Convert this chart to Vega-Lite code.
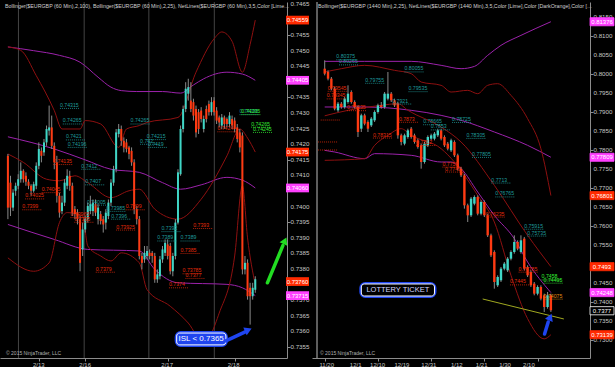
{
"$schema":"https://vega.github.io/schema/vega-lite/v6.json",
"background":"#000000",
"padding":0,
"spacing":0,
"config":{"view":{"stroke":null},"font":"Liberation Sans","axis":{"domainColor":"#8c8c8c","tickColor":"#8c8c8c","grid":false,"tickSize":3,"labels":false}},
"datasets":{
"L":[{"i":0,"o":0.74163,"h":0.74169,"l":0.7396,"c":0.73997},{"i":1,"o":0.74077,"h":0.74099,"l":0.7397,"c":0.73997},{"i":2,"o":0.73997,"h":0.74056,"l":0.73986,"c":0.74045},{"i":3,"o":0.74051,"h":0.74077,"l":0.74035,"c":0.74067},{"i":4,"o":0.74067,"h":0.74104,"l":0.74056,"c":0.74088},{"i":5,"o":0.74088,"h":0.74142,"l":0.74077,"c":0.74115},{"i":6,"o":0.74115,"h":0.7412,"l":0.74077,"c":0.74088},{"i":7,"o":0.74099,"h":0.7411,"l":0.74067,"c":0.7408},{"i":8,"o":0.7408,"h":0.74088,"l":0.74056,"c":0.74067},{"i":9,"o":0.74067,"h":0.74072,"l":0.74035,"c":0.74051},{"i":10,"o":0.74051,"h":0.7408,"l":0.74045,"c":0.74072},{"i":11,"o":0.74067,"h":0.74142,"l":0.74056,"c":0.74131},{"i":12,"o":0.74131,"h":0.74206,"l":0.7412,"c":0.74185},{"i":13,"o":0.74179,"h":0.7419,"l":0.74142,"c":0.74163},{"i":14,"o":0.74174,"h":0.74217,"l":0.74163,"c":0.74206},{"i":15,"o":0.74206,"h":0.7426,"l":0.74195,"c":0.74249},{"i":16,"o":0.74244,"h":0.74324,"l":0.74228,"c":0.74254},{"i":17,"o":0.74254,"h":0.74292,"l":0.74185,"c":0.74195},{"i":18,"o":0.74195,"h":0.74206,"l":0.7412,"c":0.74142},{"i":19,"o":0.74142,"h":0.74163,"l":0.74013,"c":0.74035},{"i":20,"o":0.74035,"h":0.74045,"l":0.73965,"c":0.73981},{"i":21,"o":0.73986,"h":0.74035,"l":0.73976,"c":0.74013},{"i":22,"o":0.74013,"h":0.74088,"l":0.74002,"c":0.74077},{"i":23,"o":0.74067,"h":0.7412,"l":0.74056,"c":0.74099},{"i":24,"o":0.74099,"h":0.74115,"l":0.74051,"c":0.74067},{"i":25,"o":0.74067,"h":0.74077,"l":0.7397,"c":0.73981},{"i":26,"o":0.73992,"h":0.74002,"l":0.7396,"c":0.73976},{"i":27,"o":0.73981,"h":0.73992,"l":0.73943,"c":0.7396},{"i":28,"o":0.7396,"h":0.7397,"l":0.73793,"c":0.7382},{"i":29,"o":0.73863,"h":0.73949,"l":0.73842,"c":0.73927},{"i":30,"o":0.73927,"h":0.7397,"l":0.73917,"c":0.7396},{"i":31,"o":0.7396,"h":0.74013,"l":0.73949,"c":0.74002},{"i":32,"o":0.73986,"h":0.74035,"l":0.73976,"c":0.74008},{"i":33,"o":0.73986,"h":0.74023,"l":0.7397,"c":0.74013},{"i":34,"o":0.74008,"h":0.74023,"l":0.7397,"c":0.73981},{"i":35,"o":0.7396,"h":0.74008,"l":0.73943,"c":0.73997},{"i":36,"o":0.73976,"h":0.73986,"l":0.73943,"c":0.73954},{"i":37,"o":0.7396,"h":0.7397,"l":0.73917,"c":0.73943},{"i":38,"o":0.73949,"h":0.73992,"l":0.73927,"c":0.73981},{"i":39,"o":0.7397,"h":0.74023,"l":0.7396,"c":0.74013},{"i":40,"o":0.74013,"h":0.74088,"l":0.74002,"c":0.74077},{"i":41,"o":0.74077,"h":0.74131,"l":0.74067,"c":0.7412},{"i":42,"o":0.7412,"h":0.74249,"l":0.7411,"c":0.74238},{"i":43,"o":0.74233,"h":0.74265,"l":0.74222,"c":0.74249},{"i":44,"o":0.74249,"h":0.7426,"l":0.74195,"c":0.74211},{"i":45,"o":0.74211,"h":0.74222,"l":0.74174,"c":0.7419},{"i":46,"o":0.74206,"h":0.74217,"l":0.74174,"c":0.74185},{"i":47,"o":0.7419,"h":0.74195,"l":0.74152,"c":0.74169},{"i":48,"o":0.74179,"h":0.7419,"l":0.74131,"c":0.74142},{"i":49,"o":0.74142,"h":0.74152,"l":0.73976,"c":0.73992},{"i":50,"o":0.73992,"h":0.74002,"l":0.73943,"c":0.7396},{"i":51,"o":0.7396,"h":0.7397,"l":0.73831,"c":0.73842},{"i":52,"o":0.73842,"h":0.73852,"l":0.73799,"c":0.7382},{"i":53,"o":0.73831,"h":0.73874,"l":0.7382,"c":0.73852},{"i":54,"o":0.73842,"h":0.73874,"l":0.73831,"c":0.73858},{"i":55,"o":0.73852,"h":0.73863,"l":0.73831,"c":0.73842},{"i":56,"o":0.73852,"h":0.73858,"l":0.7382,"c":0.73842},{"i":57,"o":0.73842,"h":0.73852,"l":0.73756,"c":0.73767},{"i":58,"o":0.73767,"h":0.73799,"l":0.73756,"c":0.73783},{"i":59,"o":0.73777,"h":0.73842,"l":0.73767,"c":0.73831},{"i":60,"o":0.73831,"h":0.73874,"l":0.7382,"c":0.73863},{"i":61,"o":0.73852,"h":0.73895,"l":0.73842,"c":0.73884},{"i":62,"o":0.73879,"h":0.73895,"l":0.73831,"c":0.73842},{"i":63,"o":0.73874,"h":0.73884,"l":0.73783,"c":0.73793},{"i":64,"o":0.73793,"h":0.73852,"l":0.73777,"c":0.73842},{"i":65,"o":0.73842,"h":0.7396,"l":0.73831,"c":0.73949},{"i":66,"o":0.73949,"h":0.7412,"l":0.73943,"c":0.7411},{"i":67,"o":0.74104,"h":0.7426,"l":0.74099,"c":0.74249},{"i":68,"o":0.74249,"h":0.74324,"l":0.74238,"c":0.74313},{"i":69,"o":0.74313,"h":0.74399,"l":0.74303,"c":0.74378},{"i":70,"o":0.74362,"h":0.7441,"l":0.7434,"c":0.74383},{"i":71,"o":0.7434,"h":0.74399,"l":0.74303,"c":0.74313},{"i":72,"o":0.74335,"h":0.74346,"l":0.74276,"c":0.74292},{"i":73,"o":0.74313,"h":0.74324,"l":0.74222,"c":0.74238},{"i":74,"o":0.74303,"h":0.74313,"l":0.74233,"c":0.74249},{"i":75,"o":0.74308,"h":0.74319,"l":0.7427,"c":0.74281},{"i":76,"o":0.74249,"h":0.74292,"l":0.74238,"c":0.74281},{"i":77,"o":0.74313,"h":0.74324,"l":0.7427,"c":0.74281},{"i":78,"o":0.74329,"h":0.7434,"l":0.74292,"c":0.74303},{"i":79,"o":0.74303,"h":0.74351,"l":0.74292,"c":0.74335},{"i":80,"o":0.7434,"h":0.74351,"l":0.74292,"c":0.74303},{"i":81,"o":0.74308,"h":0.74319,"l":0.74265,"c":0.74276},{"i":82,"o":0.74286,"h":0.74292,"l":0.74254,"c":0.7427},{"i":83,"o":0.7426,"h":0.74297,"l":0.74249,"c":0.74286},{"i":84,"o":0.74286,"h":0.74292,"l":0.74249,"c":0.74265},{"i":85,"o":0.74281,"h":0.74286,"l":0.74254,"c":0.74265},{"i":86,"o":0.74265,"h":0.74303,"l":0.74254,"c":0.74292},{"i":87,"o":0.74281,"h":0.74292,"l":0.74249,"c":0.7426},{"i":88,"o":0.74276,"h":0.74286,"l":0.74238,"c":0.74249},{"i":89,"o":0.74254,"h":0.74265,"l":0.74206,"c":0.74217},{"i":90,"o":0.74238,"h":0.74249,"l":0.74174,"c":0.7419},{"i":91,"o":0.74228,"h":0.74238,"l":0.73783,"c":0.73799},{"i":92,"o":0.73799,"h":0.73842,"l":0.73783,"c":0.7382},{"i":93,"o":0.7382,"h":0.73831,"l":0.73702,"c":0.73713},{"i":94,"o":0.7374,"h":0.73756,"l":0.73622,"c":0.73713},{"i":95,"o":0.73713,"h":0.73756,"l":0.73702,"c":0.7374},{"i":96,"o":0.73734,"h":0.73777,"l":0.73724,"c":0.73767}],
"LB":[{"s":"pu","x":0,"v":0.74512},{"s":"pu","x":10,"v":0.745},{"s":"pu","x":20,"v":0.74485},{"s":"pu","x":28,"v":0.74463},{"s":"pu","x":35,"v":0.74415},{"s":"pu","x":40,"v":0.74383},{"s":"pu","x":44,"v":0.74372},{"s":"pu","x":50,"v":0.74369},{"s":"pu","x":60,"v":0.74369},{"s":"pu","x":67,"v":0.74364},{"s":"pu","x":72,"v":0.7439},{"s":"pu","x":76,"v":0.7441},{"s":"pu","x":85,"v":0.74431},{"s":"pu","x":91,"v":0.74425},{"s":"pu","x":96,"v":0.74405},
{"s":"pm","x":0,"v":0.74224},{"s":"pm","x":18,"v":0.74185},{"s":"pm","x":30,"v":0.7415},{"s":"pm","x":40,"v":0.7412},{"s":"pm","x":51,"v":0.7411},{"s":"pm","x":60,"v":0.74077},{"s":"pm","x":67,"v":0.74056},{"s":"pm","x":75,"v":0.7407},{"s":"pm","x":85,"v":0.74094},{"s":"pm","x":91,"v":0.74085},{"s":"pm","x":96,"v":0.7406},
{"s":"pl","x":0,"v":0.73943},{"s":"pl","x":18,"v":0.73895},{"s":"pl","x":31,"v":0.73863},{"s":"pl","x":51,"v":0.73858},{"s":"pl","x":57,"v":0.73799},{"s":"pl","x":66,"v":0.73756},{"s":"pl","x":85,"v":0.73751},{"s":"pl","x":91,"v":0.7374},{"s":"pl","x":96,"v":0.73715},
{"s":"ru","x":0,"v":0.74512},{"s":"ru","x":5,"v":0.74501},{"s":"ru","x":11,"v":0.7442},{"s":"ru","x":18,"v":0.74308},{"s":"ru","x":21,"v":0.74249},{"s":"ru","x":28,"v":0.74249},{"s":"ru","x":30,"v":0.74276},{"s":"ru","x":36,"v":0.74265},{"s":"ru","x":43,"v":0.7419},{"s":"ru","x":46,"v":0.74249},{"s":"ru","x":51,"v":0.7426},{"s":"ru","x":54,"v":0.7427},{"s":"ru","x":66,"v":0.74286},{"s":"ru","x":73,"v":0.74431},{"s":"ru","x":80,"v":0.74538},{"s":"ru","x":83,"v":0.7456},{"s":"ru","x":87,"v":0.7453},{"s":"ru","x":91,"v":0.74431},{"s":"ru","x":94,"v":0.7452},{"s":"ru","x":96,"v":0.74598},
{"s":"rm","x":0,"v":0.74169},{"s":"rm","x":6,"v":0.74142},{"s":"rm","x":15,"v":0.74088},{"s":"rm","x":20,"v":0.74083},{"s":"rm","x":26,"v":0.74099},{"s":"rm","x":31,"v":0.74077},{"s":"rm","x":40,"v":0.74029},{"s":"rm","x":47,"v":0.74051},{"s":"rm","x":51,"v":0.74056},{"s":"rm","x":57,"v":0.73992},{"s":"rm","x":66,"v":0.7396},{"s":"rm","x":75,"v":0.74024},{"s":"rm","x":85,"v":0.74163},{"s":"rm","x":90,"v":0.74249},{"s":"rm","x":93,"v":0.7422},{"s":"rm","x":96,"v":0.74175},
{"s":"rl","x":0,"v":0.73836},{"s":"rl","x":10,"v":0.73793},{"s":"rl","x":16,"v":0.7382},{"s":"rl","x":20,"v":0.73949},{"s":"rl","x":23,"v":0.73981},{"s":"rl","x":29,"v":0.7397},{"s":"rl","x":31,"v":0.73874},{"s":"rl","x":36,"v":0.73842},{"s":"rl","x":40,"v":0.73826},{"s":"rl","x":44,"v":0.73852},{"s":"rl","x":51,"v":0.7382},{"s":"rl","x":54,"v":0.73734},{"s":"rl","x":63,"v":0.73681},{"s":"rl","x":70,"v":0.73627},{"s":"rl","x":76,"v":0.73563},{"s":"rl","x":82,"v":0.73659},{"s":"rl","x":88,"v":0.73842},{"s":"rl","x":91,"v":0.74067},{"s":"rl","x":93,"v":0.739},{"s":"rl","x":96,"v":0.7375}],
"LN":[{"x":20.2,"p":0.74315,"t":"0.74315","k":"T"},{"x":21.3,"p":0.74265,"t":"0.74265","k":"T"},{"x":22.5,"p":0.74214,"t":"0.7421","k":"T"},{"x":23.2,"p":0.7419,"t":"0.74196","k":"T"},{"x":28.5,"p":0.7412,"t":"0.7412","k":"T"},{"x":30,"p":0.7407,"t":"0.7407","k":"T"},{"x":30.7,"p":0.74005,"t":"0.74005","k":"T"},{"x":38.2,"p":0.73985,"t":"0.73985","k":"T"},{"x":40.1,"p":0.7396,"t":"0.7396","k":"T"},{"x":47.6,"p":0.74265,"t":"0.74265","k":"T"},{"x":53.9,"p":0.74215,"t":"0.74215","k":"T"},{"x":51.3,"p":0.742,"t":"0.742","k":"T"},{"x":54.3,"p":0.7419,"t":"0.7419","k":"T"},{"x":59.6,"p":0.7392,"t":"0.7392","k":"T"},{"x":58,"p":0.7389,"t":"0.7389","k":"T"},{"x":67,"p":0.7389,"t":"0.7389","k":"T"},{"x":89.9,"p":0.74295,"t":"0.74295","k":"T"},
{"x":90.6,"p":0.74295,"t":"0.74295","k":"G"},{"x":94.4,"p":0.74255,"t":"0.74265","k":"G"},{"x":95.1,"p":0.74238,"t":"0.74245","k":"G"},
{"x":17.6,"p":0.74135,"t":"0.74135","k":"R"},{"x":13.1,"p":0.74045,"t":"0.74045","k":"R"},{"x":6.7,"p":0.74025,"t":"0.74025","k":"R"},{"x":5.6,"p":0.7399,"t":"0.7399","k":"R"},{"x":24.3,"p":0.73965,"t":"0.73965","k":"R"},{"x":25.8,"p":0.7395,"t":"0.7395","k":"R"},{"x":45.7,"p":0.7399,"t":"0.7399","k":"R"},{"x":42,"p":0.73925,"t":"0.73925","k":"R"},{"x":34.1,"p":0.7379,"t":"0.7379","k":"R"},{"x":71.9,"p":0.7393,"t":"0.7393","k":"R"},{"x":67,"p":0.7385,"t":"0.7385","k":"R"},{"x":67.8,"p":0.73785,"t":"0.73785","k":"R"},{"x":68.9,"p":0.7377,"t":"0.7377","k":"R"},{"x":62.5,"p":0.7374,"t":"0.7374","k":"R"},{"x":81.3,"p":0.7424,"t":"0.7424","k":"R"}],
"LX":[{"p":0.74598,"t":"0.74559","k":"R"},{"p":0.74405,"t":"0.74405","k":"M"},{"p":0.74175,"t":"0.74175","k":"R"},{"p":0.7406,"t":"0.74060","k":"M"},{"p":0.7376,"t":"0.73760","k":"R"},{"p":0.73715,"t":"0.73715","k":"M"}],
"LY":[{"p":0.7355,"t":"0.7355"},{"p":0.736,"t":"0.7360"},{"p":0.7365,"t":"0.7365"},{"p":0.737,"t":"0.7370"},{"p":0.738,"t":"0.7380"},{"p":0.7385,"t":"0.7385"},{"p":0.739,"t":"0.7390"},{"p":0.7395,"t":"0.7395"},{"p":0.74,"t":"0.7400"},{"p":0.741,"t":"0.7410"},{"p":0.7415,"t":"0.7415"},{"p":0.742,"t":"0.7420"},{"p":0.7425,"t":"0.7425"},{"p":0.743,"t":"0.7430"},{"p":0.7435,"t":"0.7435"},{"p":0.7445,"t":"0.7445"},{"p":0.745,"t":"0.7450"},{"p":0.7455,"t":"0.7455"},{"p":0.7465,"t":"0.7465"}],
"LD":[{"x":12,"t":"2/13"},{"x":30,"t":"2/16"},{"x":61.8,"t":"2/17"},{"x":87.6,"t":"2/18"}],
"R":[{"k":0,"o":0.8014,"h":0.8036,"l":0.79965,"c":0.80009},{"k":1,"o":0.80053,"h":0.80097,"l":0.79833,"c":0.79877},{"k":2,"o":0.79877,"h":0.79921,"l":0.7957,"c":0.79614},{"k":3,"o":0.79614,"h":0.79658,"l":0.79044,"c":0.79088},{"k":4,"o":0.79044,"h":0.79263,"l":0.79,"c":0.79219},{"k":5,"o":0.79219,"h":0.79263,"l":0.79088,"c":0.79132},{"k":6,"o":0.79132,"h":0.79395,"l":0.79088,"c":0.79351},{"k":7,"o":0.79263,"h":0.79702,"l":0.79219,"c":0.79482},{"k":8,"o":0.79526,"h":0.7957,"l":0.79219,"c":0.79263},{"k":9,"o":0.79263,"h":0.79307,"l":0.79088,"c":0.79132},{"k":10,"o":0.79132,"h":0.79175,"l":0.78342,"c":0.78474},{"k":11,"o":0.78561,"h":0.78956,"l":0.78474,"c":0.78912},{"k":12,"o":0.78912,"h":0.78956,"l":0.78649,"c":0.78693},{"k":13,"o":0.78737,"h":0.78781,"l":0.78474,"c":0.78561},{"k":14,"o":0.78649,"h":0.78868,"l":0.78605,"c":0.78825},{"k":15,"o":0.78781,"h":0.79044,"l":0.78737,"c":0.79},{"k":16,"o":0.79,"h":0.79219,"l":0.78956,"c":0.79175},{"k":17,"o":0.79175,"h":0.79263,"l":0.79088,"c":0.79132},{"k":18,"o":0.79132,"h":0.79526,"l":0.79088,"c":0.79482},{"k":19,"o":0.79351,"h":0.80053,"l":0.79307,"c":0.79482},{"k":20,"o":0.79482,"h":0.79526,"l":0.79263,"c":0.79307},{"k":21,"o":0.79307,"h":0.79351,"l":0.79132,"c":0.79175},{"k":22,"o":0.79219,"h":0.79263,"l":0.78298,"c":0.78386},{"k":23,"o":0.78386,"h":0.7843,"l":0.78123,"c":0.78211},{"k":24,"o":0.78167,"h":0.7843,"l":0.78123,"c":0.78386},{"k":25,"o":0.78342,"h":0.78561,"l":0.78298,"c":0.78517},{"k":26,"o":0.78561,"h":0.78605,"l":0.78298,"c":0.78342},{"k":27,"o":0.78386,"h":0.7843,"l":0.78167,"c":0.78211},{"k":28,"o":0.78254,"h":0.78298,"l":0.78035,"c":0.78079},{"k":29,"o":0.78123,"h":0.78167,"l":0.77509,"c":0.77684},{"k":30,"o":0.77684,"h":0.78211,"l":0.7764,"c":0.78167},{"k":31,"o":0.78123,"h":0.78386,"l":0.78079,"c":0.78342},{"k":32,"o":0.78298,"h":0.7843,"l":0.78254,"c":0.78386},{"k":33,"o":0.78298,"h":0.78474,"l":0.78254,"c":0.7843},{"k":34,"o":0.78386,"h":0.78561,"l":0.78342,"c":0.78517},{"k":35,"o":0.78517,"h":0.78561,"l":0.78254,"c":0.78298},{"k":36,"o":0.78342,"h":0.78386,"l":0.78079,"c":0.78123},{"k":37,"o":0.78167,"h":0.78211,"l":0.77991,"c":0.78035},{"k":38,"o":0.77991,"h":0.78298,"l":0.77947,"c":0.78254},{"k":39,"o":0.78211,"h":0.78254,"l":0.77816,"c":0.7786},{"k":40,"o":0.7786,"h":0.77904,"l":0.77465,"c":0.77509},{"k":41,"o":0.77509,"h":0.77553,"l":0.77289,"c":0.77333},{"k":42,"o":0.77333,"h":0.77377,"l":0.76456,"c":0.76544},{"k":43,"o":0.76544,"h":0.76588,"l":0.76105,"c":0.76281},{"k":44,"o":0.76281,"h":0.76763,"l":0.76237,"c":0.76719},{"k":45,"o":0.76588,"h":0.76807,"l":0.76544,"c":0.76763},{"k":46,"o":0.76763,"h":0.76807,"l":0.76281,"c":0.76324},{"k":47,"o":0.76324,"h":0.76675,"l":0.76281,"c":0.76632},{"k":48,"o":0.76632,"h":0.76675,"l":0.76237,"c":0.76281},{"k":49,"o":0.76281,"h":0.76324,"l":0.7571,"c":0.75754},{"k":50,"o":0.75754,"h":0.75798,"l":0.75184,"c":0.75228},{"k":51,"o":0.75316,"h":0.7536,"l":0.74351,"c":0.74526},{"k":52,"o":0.74439,"h":0.74702,"l":0.74395,"c":0.74658},{"k":53,"o":0.7457,"h":0.74921,"l":0.74526,"c":0.74877},{"k":54,"o":0.74877,"h":0.75053,"l":0.74833,"c":0.75009},{"k":55,"o":0.74833,"h":0.75184,"l":0.74789,"c":0.7514},{"k":56,"o":0.7514,"h":0.7536,"l":0.75096,"c":0.75316},{"k":57,"o":0.75316,"h":0.75754,"l":0.75272,"c":0.75579},{"k":58,"o":0.75579,"h":0.75623,"l":0.7536,"c":0.75404},{"k":59,"o":0.75316,"h":0.75754,"l":0.75272,"c":0.75623},{"k":60,"o":0.75667,"h":0.75711,"l":0.74833,"c":0.74877},{"k":61,"o":0.74921,"h":0.74965,"l":0.74658,"c":0.74702},{"k":62,"o":0.74789,"h":0.74833,"l":0.74395,"c":0.74439},{"k":63,"o":0.74482,"h":0.74526,"l":0.74175,"c":0.74219},{"k":64,"o":0.74219,"h":0.74439,"l":0.74175,"c":0.74395},{"k":65,"o":0.74395,"h":0.74439,"l":0.74044,"c":0.74088},{"k":66,"o":0.74175,"h":0.74219,"l":0.73737,"c":0.73868},{"k":67,"o":0.73868,"h":0.74263,"l":0.73824,"c":0.74175},{"k":68,"o":0.74175,"h":0.74219,"l":0.73737,"c":0.73781}],
"RB":[{"s":"pu","x":0,"v":0.80333},{"s":"pu","x":12,"v":0.80333},{"s":"pu","x":26,"v":0.80333},{"s":"pu","x":35,"v":0.80228},{"s":"pu","x":41,"v":0.8014},{"s":"pu","x":45,"v":0.802},{"s":"pu","x":49,"v":0.80491},{"s":"pu","x":53,"v":0.80754},{"s":"pu","x":59,"v":0.81017},{"s":"pu","x":68,"v":0.81376},
{"s":"pm","x":0,"v":0.79132},{"s":"pm","x":12,"v":0.79132},{"s":"pm","x":26,"v":0.79044},{"s":"pm","x":35,"v":0.78912},{"s":"pm","x":41,"v":0.78781},{"s":"pm","x":51,"v":0.78474},{"s":"pm","x":61,"v":0.78123},{"s":"pm","x":68,"v":0.77809},
{"s":"pl","x":0,"v":0.77991},{"s":"pl","x":3,"v":0.77947},{"s":"pl","x":12,"v":0.77772},{"s":"pl","x":15,"v":0.77904},{"s":"pl","x":26,"v":0.7786},{"s":"pl","x":35,"v":0.77684},{"s":"pl","x":38,"v":0.77684},{"s":"pl","x":41,"v":0.77509},{"s":"pl","x":46,"v":0.76895},{"s":"pl","x":51,"v":0.76281},{"s":"pl","x":57,"v":0.75667},{"s":"pl","x":61,"v":0.75053},{"s":"pl","x":68,"v":0.74248},
{"s":"ru","x":0,"v":0.80053},{"s":"ru","x":5,"v":0.8014},{"s":"ru","x":12,"v":0.80228},{"s":"ru","x":21,"v":0.80096},{"s":"ru","x":26,"v":0.80009},{"s":"ru","x":29,"v":0.79789},{"s":"ru","x":35,"v":0.79702},{"s":"ru","x":38,"v":0.79526},{"s":"ru","x":43,"v":0.7957},{"s":"ru","x":46,"v":0.79482},{"s":"ru","x":49,"v":0.79702},{"s":"ru","x":52,"v":0.79745},{"s":"ru","x":56,"v":0.79439},{"s":"ru","x":61,"v":0.78825},{"s":"ru","x":65,"v":0.78035},{"s":"ru","x":68,"v":0.76801},
{"s":"rm","x":0,"v":0.789},{"s":"rm","x":7,"v":0.79044},{"s":"rm","x":17,"v":0.79175},{"s":"rm","x":22,"v":0.79219},{"s":"rm","x":25,"v":0.79044},{"s":"rm","x":35,"v":0.78605},{"s":"rm","x":41,"v":0.78211},{"s":"rm","x":51,"v":0.7707},{"s":"rm","x":61,"v":0.75754},{"s":"rm","x":68,"v":0.7493},
{"s":"rl","x":0,"v":0.77728},{"s":"rl","x":12,"v":0.77772},{"s":"rl","x":15,"v":0.78123},{"s":"rl","x":19,"v":0.78386},{"s":"rl","x":23,"v":0.78561},{"s":"rl","x":26,"v":0.78386},{"s":"rl","x":35,"v":0.78035},{"s":"rl","x":39,"v":0.77684},{"s":"rl","x":46,"v":0.76807},{"s":"rl","x":51,"v":0.76105},{"s":"rl","x":56,"v":0.74702},{"s":"rl","x":61,"v":0.73561},{"s":"rl","x":66,"v":0.7303},{"s":"rl","x":68,"v":0.73139}],
"RN":[{"x":3.5,"p":0.80375,"t":"0.80375","k":"T"},{"x":4.3,"p":0.8024,"t":"0.80265","k":"T"},{"x":12.2,"p":0.79755,"t":"0.79755","k":"T"},{"x":24,"p":0.80055,"t":"0.80055","k":"T"},{"x":25.2,"p":0.79535,"t":"0.79535","k":"T"},{"x":20.3,"p":0.7921,"t":"0.7921","k":"T"},{"x":29.6,"p":0.78665,"t":"0.78665","k":"T"},{"x":31.9,"p":0.7853,"t":"0.7853","k":"T"},{"x":38.3,"p":0.78725,"t":"0.78725","k":"T"},{"x":42.6,"p":0.78305,"t":"0.78305","k":"T"},{"x":44.3,"p":0.77805,"t":"0.77805","k":"T"},{"x":50.1,"p":0.7713,"t":"0.7713","k":"T"},{"x":51.3,"p":0.76765,"t":"0.76765","k":"T"},{"x":60,"p":0.75915,"t":"0.75915","k":"T"},{"x":60.9,"p":0.75735,"t":"0.75735","k":"T"},
{"x":0.9,"p":0.79545,"t":"0.79545","k":"R"},{"x":0.6,"p":0.79345,"t":"0.79345","k":"R"},{"x":6.7,"p":0.79035,"t":"0.79035","k":"R"},{"x":14.5,"p":0.78315,"t":"0.78315","k":"R"},{"x":22.3,"p":0.7873,"t":"0.7873","k":"R"},{"x":27.5,"p":0.7812,"t":"0.7812","k":"R"},{"x":35.4,"p":0.7755,"t":"0.7755","k":"R"},{"x":36.2,"p":0.7742,"t":"0.7742","k":"R"},{"x":48.4,"p":0.76235,"t":"0.76235","k":"R"},{"x":58.3,"p":0.74785,"t":"0.74785","k":"R"},{"x":55.7,"p":0.7445,"t":"0.7445","k":"R"},{"x":-1.2,"p":0.78789,"t":"","k":"R"},{"x":-2,"p":0.78211,"t":"","k":"R"},{"x":-2,"p":0.78,"t":"","k":"R"},
{"x":65.8,"p":0.74075,"t":"0.74075","k":"O"},{"x":65.2,"p":0.7458,"t":"0.7458","k":"G"},{"x":65.8,"p":0.74495,"t":"0.74495","k":"G"}],
"RX":[{"p":0.81376,"t":"0.81376","k":"M"},{"p":0.77809,"t":"0.77809","k":"M"},{"p":0.76801,"t":"0.76801","k":"R"},{"p":0.7493,"t":"0.7493","k":"R"},{"p":0.74248,"t":"0.74248","k":"M"},{"p":0.7377,"t":"0.7377","k":"W"},{"p":0.73139,"t":"0.73139","k":"R"}],
"RY":[{"p":0.73,"t":"0.7300"},{"p":0.735,"t":"0.7350"},{"p":0.74,"t":"0.7400"},{"p":0.745,"t":"0.7450"},{"p":0.755,"t":"0.7550"},{"p":0.76,"t":"0.7600"},{"p":0.765,"t":"0.7650"},{"p":0.77,"t":"0.7700"},{"p":0.775,"t":"0.7750"},{"p":0.78,"t":"0.7800"},{"p":0.785,"t":"0.7850"},{"p":0.79,"t":"0.7900"},{"p":0.795,"t":"0.7950"},{"p":0.8,"t":"0.8000"},{"p":0.805,"t":"0.8050"},{"p":0.81,"t":"0.8100"},{"p":0.815,"t":"0.8150"}],
"RD":[{"x":0.6,"t":"11/20"},{"x":9.3,"t":"12/1"},{"x":15.9,"t":"12/10"},{"x":23.2,"t":"12/19"},{"x":31.3,"t":"12/31"},{"x":39.7,"t":"1/12"},{"x":47.2,"t":"1/21"},{"x":54.2,"t":"1/30"},{"x":61.4,"t":"2/10"}]
},
"hconcat":[
{
"width":287,"height":356,
"resolve":{"scale":{"color":"independent","fill":"independent","stroke":"independent"}},
"layer":[
{"data":{"values":[{"x":4.1},{"x":29.6},{"x":54.7},{"x":80.1}]},"mark":{"type":"rule","color":"#444444","strokeWidth":1},
 "encoding":{"x":{"field":"x","type":"quantitative","title":null,"scale":{"domain":[-1.124,106.37],"nice":false,"zero":false},"axis":{"values":[12,30,62,88],"labels":false,"title":null,"orient":"bottom","minExtent":11,"maxExtent":11}}}},
{"data":{"name":"LB"},"mark":{"type":"line","strokeWidth":1,"interpolate":"monotone","clip":true},
 "encoding":{"x":{"field":"x","type":"quantitative","title":null},"y":{"field":"v","type":"quantitative","title":null,"scale":{"domain":[0.73515,0.74656],"nice":false,"zero":false},"axis":{"orient":"right","values":[0.7355,0.736,0.7365,0.737,0.7375,0.738,0.7385,0.739,0.7395,0.74,0.7405,0.741,0.7415,0.742,0.7425,0.743,0.7435,0.744,0.7445,0.745,0.7455,0.746,0.7465],"labels":false,"title":null,"minExtent":25,"maxExtent":25}},
 "color":{"field":"s","type":"nominal","scale":{"domain":["pu","pm","pl","ru","rm","rl"],"range":["#9c22ab","#9c22ab","#9c22ab","#8e1010","#8e1010","#8e1010"]},"legend":null}}},
{"data":{"name":"L"},"mark":{"type":"rule","color":"#8a8a8a","strokeWidth":1},
 "encoding":{"x":{"field":"i","type":"quantitative","title":null},"y":{"field":"l","type":"quantitative","title":null},"y2":{"field":"h"}}},
{"data":{"name":"L"},"mark":{"type":"bar","size":2},
 "encoding":{"x":{"field":"i","type":"quantitative","title":null},"y":{"field":"o","type":"quantitative","title":null},"y2":{"field":"c"},
 "color":{"condition":{"test":"datum.c >= datum.o","value":"#3fd6c6"},"value":"#ff3a12"}}},
{"data":{"name":"LN"},"mark":{"type":"rule","strokeDash":[1,1],"strokeWidth":0.8,"x2Offset":19},
 "encoding":{"x":{"field":"x","type":"quantitative","title":null},"x2":{"field":"x"},"y":{"field":"p","type":"quantitative","title":null},
 "color":{"field":"k","type":"nominal","scale":{"domain":["T","R","G","O"],"range":["#1f9b9b","#e02a0a","#33ee33","#e08a10"]},"legend":null}}},
{"data":{"name":"LN"},"mark":{"type":"text","align":"left","baseline":"bottom","fontSize":5.2,"dy":-0.5},
 "encoding":{"x":{"field":"x","type":"quantitative","title":null},"y":{"field":"p","type":"quantitative","title":null},"text":{"field":"t"},
 "color":{"field":"k","type":"nominal","scale":{"domain":["T","R","G","O"],"range":["#1f9b9b","#e02a0a","#33ee33","#e08a10"]},"legend":null}}},
{"data":{"values":[{"x":65.5,"x2":84.6,"y":0.73557,"y2":0.73595}]},"mark":{"type":"rect","fill":"#1f45f0","stroke":"#1f45f0","strokeWidth":4,"cornerRadius":4},
 "encoding":{"x":{"field":"x","type":"quantitative","title":null},"x2":{"field":"x2"},"y":{"field":"y","type":"quantitative","title":null},"y2":{"field":"y2"}}},
{"data":{"values":[{"x":65.5,"x2":84.6,"y":0.73557,"y2":0.73595}]},"mark":{"type":"rect","fill":"#1f45f0","stroke":"#ffffff","strokeWidth":1,"cornerRadius":3},
 "encoding":{"x":{"field":"x","type":"quantitative","title":null},"x2":{"field":"x2"},"y":{"field":"y","type":"quantitative","title":null},"y2":{"field":"y2"}}},
{"data":{"values":[{"x":75,"y":0.73576,"t":"ISL < 0.7365"}]},"mark":{"type":"text","color":"#ffffff","fontSize":8,"align":"center","baseline":"middle"},
 "encoding":{"x":{"field":"x","type":"quantitative","title":null},"y":{"field":"y","type":"quantitative","title":null},"text":{"field":"t"}}},
{"data":{"values":[{"x":84.6,"y":0.7357,"x2":92.1,"y2":0.73599}]},"mark":{"type":"rule","color":"#1f45f0","strokeWidth":3.5,"strokeCap":"round"},
 "encoding":{"x":{"field":"x","type":"quantitative","title":null},"x2":{"field":"x2"},"y":{"field":"y","type":"quantitative","title":null},"y2":{"field":"y2"}}},
{"data":{"values":[{"x":93.3,"y":0.73605}]},"mark":{"type":"point","shape":"triangle-up","filled":true,"opacity":1,"color":"#1f45f0","size":70,"angle":66},
 "encoding":{"x":{"field":"x","type":"quantitative","title":null},"y":{"field":"y","type":"quantitative","title":null}}},
{"data":{"values":[{"x":100.7,"y":0.73756,"x2":106.7,"y2":0.73875}]},"mark":{"type":"rule","color":"#22dd22","strokeWidth":3.5,"strokeCap":"round"},
 "encoding":{"x":{"field":"x","type":"quantitative","title":null},"x2":{"field":"x2"},"y":{"field":"y","type":"quantitative","title":null},"y2":{"field":"y2"}}},
{"data":{"values":[{"x":107.5,"y":0.73891}]},"mark":{"type":"point","shape":"triangle-up","filled":true,"opacity":1,"color":"#22dd22","size":70,"angle":25},
 "encoding":{"x":{"field":"x","type":"quantitative","title":null},"y":{"field":"y","type":"quantitative","title":null}}},
{"data":{"name":"LY"},"mark":{"type":"text","color":"#c8c8c8","fontSize":6.2,"align":"left","baseline":"middle","dx":3.5},
 "encoding":{"x":{"value":"width"},"y":{"field":"p","type":"quantitative","title":null},"text":{"field":"t"}}},
{"data":{"name":"LD"},"mark":{"type":"text","color":"#c8c8c8","fontSize":6,"align":"center","baseline":"middle","dy":7},
 "encoding":{"x":{"field":"x","type":"quantitative","title":null},"y":{"value":"height"},"text":{"field":"t"}}},
{"data":{"name":"LX"},"mark":{"type":"point","shape":"M-1,-0.38L1,-0.38L1,0.38L-1,0.38Z","size":530,"filled":true,"opacity":1,"xOffset":10.5},
 "encoding":{"x":{"value":"width"},"y":{"field":"p","type":"quantitative","title":null},
 "fill":{"field":"k","type":"nominal","scale":{"domain":["R","M","W"],"range":["#ff2a00","#ff40ff","#000000"]},"legend":null}}},
{"data":{"name":"LX"},"mark":{"type":"text","color":"#ffffff","fontSize":6,"align":"center","baseline":"middle","dx":10.5},
 "encoding":{"x":{"value":"width"},"y":{"field":"p","type":"quantitative","title":null},"text":{"field":"t"}}},
{"data":{"values":[{"x":-1.124,"y":0.74656,"t":"Bollinger($EURGBP (60 Min),2,100), Bollinger($EURGBP (60 Min),2,25), NetLines($EURGBP (60 Min),3,5,Color [Lime],Color ["}]},"mark":{"type":"text","color":"#d0d0d0","fontSize":5.3,"align":"left","baseline":"top","dy":2,"limit":286,"ellipsis":""},
 "encoding":{"x":{"field":"x","type":"quantitative","title":null},"y":{"field":"y","type":"quantitative","title":null},"text":{"field":"t"}}},
{"data":{"values":[{"x":-1.124,"y":0.73515,"t":"© 2015 NinjaTrader, LLC"}]},"mark":{"type":"text","color":"#b0b0b0","fontSize":5,"align":"left","baseline":"bottom","dy":-2,"dx":1},
 "encoding":{"x":{"field":"x","type":"quantitative","title":null},"y":{"field":"y","type":"quantitative","title":null},"text":{"field":"t"}}}
]},
{
"width":278,"height":356,
"resolve":{"scale":{"color":"independent","fill":"independent","stroke":"independent"}},
"layer":[
{"data":{"values":[{"x":-2.32}]},"mark":{"type":"rule","color":"#bbbbbb","strokeWidth":1},
 "encoding":{"x":{"field":"x","type":"quantitative","title":null,"scale":{"domain":[-2.32,78.26],"nice":false,"zero":false},"axis":{"values":[0,1,2,3,4,5,6,7,8,9,10,11,12,13,14,15,16,17,18,19,20,21,22,23,24,25,26,27,28,29,30,31,32,33,34,35,36,37,38,39,40,41,42,43,44,45,46,47,48,49,50,51,52,53,54,55,56,57,58,59,60,61,62,63,64,65,66,67,68],"labels":false,"title":null,"orient":"bottom","minExtent":11,"maxExtent":11}}}},
{"data":{"name":"RB"},"mark":{"type":"line","strokeWidth":1,"interpolate":"monotone","clip":true},
 "encoding":{"x":{"field":"x","type":"quantitative","title":null},"y":{"field":"v","type":"quantitative","title":null,"scale":{"domain":[0.72526,0.81895],"nice":false,"zero":false},"axis":{"orient":"right","values":[0.73,0.735,0.74,0.745,0.75,0.755,0.76,0.765,0.77,0.775,0.78,0.785,0.79,0.795,0.8,0.805,0.81,0.815],"labels":false,"title":null,"minExtent":25,"maxExtent":25}},
 "color":{"field":"s","type":"nominal","scale":{"domain":["pu","pm","pl","ru","rm","rl"],"range":["#9c22ab","#9c22ab","#9c22ab","#8e1010","#8e1010","#8e1010"]},"legend":null}}},
{"data":{"name":"R"},"mark":{"type":"rule","color":"#8a8a8a","strokeWidth":1},
 "encoding":{"x":{"field":"k","type":"quantitative","title":null},"y":{"field":"l","type":"quantitative","title":null},"y2":{"field":"h"}}},
{"data":{"name":"R"},"mark":{"type":"bar","size":2.4},
 "encoding":{"x":{"field":"k","type":"quantitative","title":null},"y":{"field":"o","type":"quantitative","title":null},"y2":{"field":"c"},
 "color":{"condition":{"test":"datum.c >= datum.o","value":"#3fd6c6"},"value":"#ff3a12"}}},
{"data":{"name":"RN"},"mark":{"type":"rule","strokeDash":[1,1],"strokeWidth":0.8,"x2Offset":19},
 "encoding":{"x":{"field":"x","type":"quantitative","title":null},"x2":{"field":"x"},"y":{"field":"p","type":"quantitative","title":null},
 "color":{"field":"k","type":"nominal","scale":{"domain":["T","R","G","O"],"range":["#1f9b9b","#e02a0a","#33ee33","#e08a10"]},"legend":null}}},
{"data":{"name":"RN"},"mark":{"type":"text","align":"left","baseline":"bottom","fontSize":5.2,"dy":-0.5},
 "encoding":{"x":{"field":"x","type":"quantitative","title":null},"y":{"field":"p","type":"quantitative","title":null},"text":{"field":"t"},
 "color":{"field":"k","type":"nominal","scale":{"domain":["T","R","G","O"],"range":["#1f9b9b","#e02a0a","#33ee33","#e08a10"]},"legend":null}}},
{"data":{"values":[{"x":47.5,"y":0.74079,"x2":71.9,"y2":0.73553}]},"mark":{"type":"rule","color":"#a0a820","strokeWidth":1},
 "encoding":{"x":{"field":"x","type":"quantitative","title":null},"x2":{"field":"x2"},"y":{"field":"y","type":"quantitative","title":null},"y2":{"field":"y2"}}},
{"data":{"values":[{"x":11,"x2":33,"y":0.74158,"y2":0.74474}]},"mark":{"type":"rect","fill":"#000000","stroke":"#1f45f0","strokeWidth":4,"cornerRadius":4},
 "encoding":{"x":{"field":"x","type":"quantitative","title":null},"x2":{"field":"x2"},"y":{"field":"y","type":"quantitative","title":null},"y2":{"field":"y2"}}},
{"data":{"values":[{"x":11,"x2":33,"y":0.74158,"y2":0.74474}]},"mark":{"type":"rect","fill":"#000000","stroke":"#ffffff","strokeWidth":1,"cornerRadius":3},
 "encoding":{"x":{"field":"x","type":"quantitative","title":null},"x2":{"field":"x2"},"y":{"field":"y","type":"quantitative","title":null},"y2":{"field":"y2"}}},
{"data":{"values":[{"x":22,"y":0.74316,"t":"LOTTERY TICKET"}]},"mark":{"type":"text","color":"#d6d6ff","fontSize":7.5,"align":"center","baseline":"middle"},
 "encoding":{"x":{"field":"x","type":"quantitative","title":null},"y":{"field":"y","type":"quantitative","title":null},"text":{"field":"t"}}},
{"data":{"values":[{"x":66.1,"y":0.73158,"x2":67.2,"y2":0.73474}]},"mark":{"type":"rule","color":"#1f45f0","strokeWidth":3.5,"strokeCap":"round"},
 "encoding":{"x":{"field":"x","type":"quantitative","title":null},"x2":{"field":"x2"},"y":{"field":"y","type":"quantitative","title":null},"y2":{"field":"y2"}}},
{"data":{"values":[{"x":67.8,"y":0.73605}]},"mark":{"type":"point","shape":"triangle-up","filled":true,"opacity":1,"color":"#1f45f0","size":70,"angle":22},
 "encoding":{"x":{"field":"x","type":"quantitative","title":null},"y":{"field":"y","type":"quantitative","title":null}}},
{"data":{"name":"RY"},"mark":{"type":"text","color":"#c8c8c8","fontSize":6.2,"align":"left","baseline":"middle","dx":3.5},
 "encoding":{"x":{"value":"width"},"y":{"field":"p","type":"quantitative","title":null},"text":{"field":"t"}}},
{"data":{"name":"RD"},"mark":{"type":"text","color":"#c8c8c8","fontSize":6,"align":"center","baseline":"middle","dy":7},
 "encoding":{"x":{"field":"x","type":"quantitative","title":null},"y":{"value":"height"},"text":{"field":"t"}}},
{"data":{"name":"RX"},"mark":{"type":"point","shape":"M-1,-0.34L1,-0.34L1,0.34L-1,0.34Z","size":576,"filled":true,"opacity":1,"xOffset":12,"strokeWidth":0.8},
 "encoding":{"x":{"value":"width"},"y":{"field":"p","type":"quantitative","title":null},
 "fill":{"field":"k","type":"nominal","scale":{"domain":["R","M","W"],"range":["#ff2a00","#ff40ff","#000000"]},"legend":null},
 "stroke":{"field":"k","type":"nominal","scale":{"domain":["R","M","W"],"range":["#ff2a00","#ff40ff","#ffffff"]},"legend":null}}},
{"data":{"name":"RX"},"mark":{"type":"text","color":"#ffffff","fontSize":6,"align":"center","baseline":"middle","dx":12},
 "encoding":{"x":{"value":"width"},"y":{"field":"p","type":"quantitative","title":null},"text":{"field":"t"}}},
{"data":{"values":[{"x":-2.32,"y":0.81895,"t":"Bollinger($EURGBP (1440 Min),2,25), NetLines($EURGBP (1440 Min),3,5,Color [Lime],Color [DarkOrange],Color [Teal],Co"}]},"mark":{"type":"text","color":"#d0d0d0","fontSize":5.3,"align":"left","baseline":"top","dy":2,"dx":1,"limit":276,"ellipsis":""},
 "encoding":{"x":{"field":"x","type":"quantitative","title":null},"y":{"field":"y","type":"quantitative","title":null},"text":{"field":"t"}}},
{"data":{"values":[{"x":-2.32,"y":0.72526,"t":"© 2015 NinjaTrader, LLC"}]},"mark":{"type":"text","color":"#b0b0b0","fontSize":5,"align":"left","baseline":"bottom","dy":-2,"dx":3},
 "encoding":{"x":{"field":"x","type":"quantitative","title":null},"y":{"field":"y","type":"quantitative","title":null},"text":{"field":"t"}}}
]}
]
}
